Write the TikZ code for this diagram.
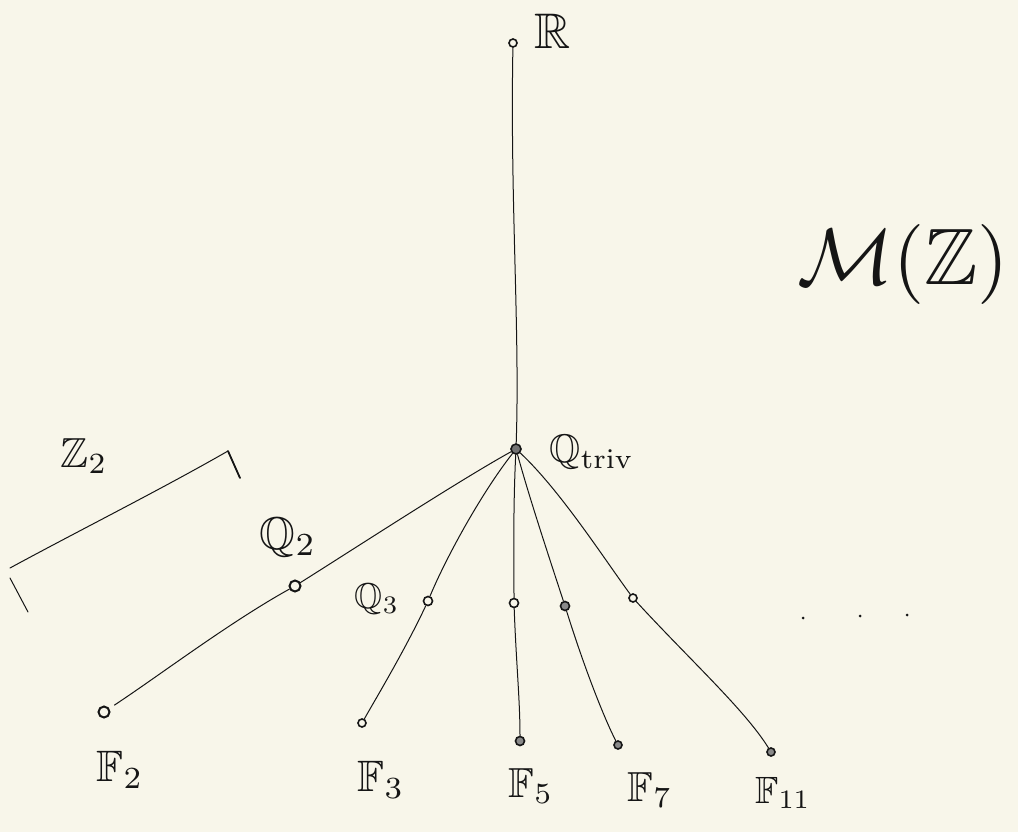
\documentclass[tikz,border=0pt]{standalone}
\usepackage{amssymb}
\definecolor{paper}{HTML}{F8F6EA}
\definecolor{ink}{HTML}{151515}
\begin{document}
\begin{tikzpicture}[x=1pt,y=-1pt,
  ink/.style={draw=ink,line width=1pt,line cap=round,line join=round},
  pt/.style={circle,draw=ink,line width=1.6pt,inner sep=0pt,minimum size=8pt},
  bigpt/.style={circle,draw=ink,line width=2pt,inner sep=0pt,minimum size=11pt},
  lab/.style={text=ink,inner sep=0pt,anchor=center},
  dotpt/.style={circle,fill=ink,inner sep=0pt,minimum size=3pt}]
\useasboundingbox (0,0) rectangle (1018,832);
\fill[paper] (0,0) rectangle (1018,832);

% points
\node[pt] (r) at (513,43) {};
\node[pt,fill=ink!60,minimum size=10pt] (qt) at (516,449) {};
\node[bigpt] (q2) at (295,586) {};
\node[pt,minimum size=9pt] (q3) at (428,601) {};
\node[pt,minimum size=9pt] (q5) at (514,603) {};
\node[pt,fill=ink!50,minimum size=9pt] (q7) at (565,606) {};
\node[pt] (q11) at (633,598) {};
\node[bigpt] (f2) at (104,712) {};
\node[pt] (f3) at (362,723) {};
\node[pt,fill=ink!50,minimum size=9pt] (f5) at (520,741) {};
\node[pt,fill=ink!50] (f7) at (618,745) {};
\node[pt,fill=ink!50] (f11) at (771,752) {};

% labels
\node[lab,scale=5] (rl) at (553,31) {$\mathbb{R}$};
\node[lab,scale=4.0] (qtl) at (592,452) {$\mathbb{Q}_{\mathrm{triv}}$};
\node[lab,scale=4.6] (q2l) at (288,537) {$\mathbb{Q}_{2}$};
\node[lab,scale=3.6] (q3l) at (377,599) {$\mathbb{Q}_{3}$};
\node[lab,scale=4.4] (f2l) at (120,770) {$\mathbb{F}_{2}$};
\node[lab,scale=4.4] (f3l) at (381,780) {$\mathbb{F}_{3}$};
\node[lab,scale=4.2] (f5l) at (531,786) {$\mathbb{F}_{5}$};
\node[lab,scale=4.2] (f7l) at (650,790) {$\mathbb{F}_{7}$};
\node[lab,scale=3.8] (f11l) at (783,793) {$\mathbb{F}_{11}$};
\node[lab,scale=8] (mz) at (903,264) {$\mathcal{M}(\mathbb{Z})$};
\node[lab,scale=4.2] (z2l) at (84,456) {$\mathbb{Z}_{2}$};
\node[dotpt] (d1) at (803,618) {};
\node[dotpt] (d2) at (860,616) {};
\node[dotpt] (d3) at (907,615) {};

% branches
\draw[ink] (r) .. controls (510,200) and (520,330) .. (qt);
\draw[ink] (qt) .. controls (460,480) and (360,545) .. (q2);
\draw[ink,shorten >=6pt] (q2) .. controls (230,622) and (160,675) .. (f2);
\draw[ink] (qt) .. controls (480,495) and (445,560) .. (q3);
\draw[ink] (q3) .. controls (405,650) and (375,700) .. (f3);
\draw[ink] (qt) .. controls (513,510) and (514,560) .. (q5);
\draw[ink] (q5) .. controls (516,660) and (520,700) .. (f5);
\draw[ink] (qt) .. controls (530,500) and (550,560) .. (q7);
\draw[ink] (q7) .. controls (585,670) and (605,720) .. (f7);
\draw[ink] (qt) .. controls (560,490) and (605,560) .. (q11);
\draw[ink] (q11) .. controls (690,660) and (745,710) .. (f11);

% Z2 bracket
\coordinate (ba) at (10,568);
\coordinate (bb) at (228,451);
\coordinate (bt) at (240,478);
\coordinate (bl1) at (10,578);
\coordinate (bl2) at (28,612);
\draw[ink] (ba) .. controls (80,530) and (160,490) .. (bb);
\draw[ink,line width=1.8pt] (bb) -- (bt);
\draw[ink] (bl1) -- (bl2);
\end{tikzpicture}
\end{document}
